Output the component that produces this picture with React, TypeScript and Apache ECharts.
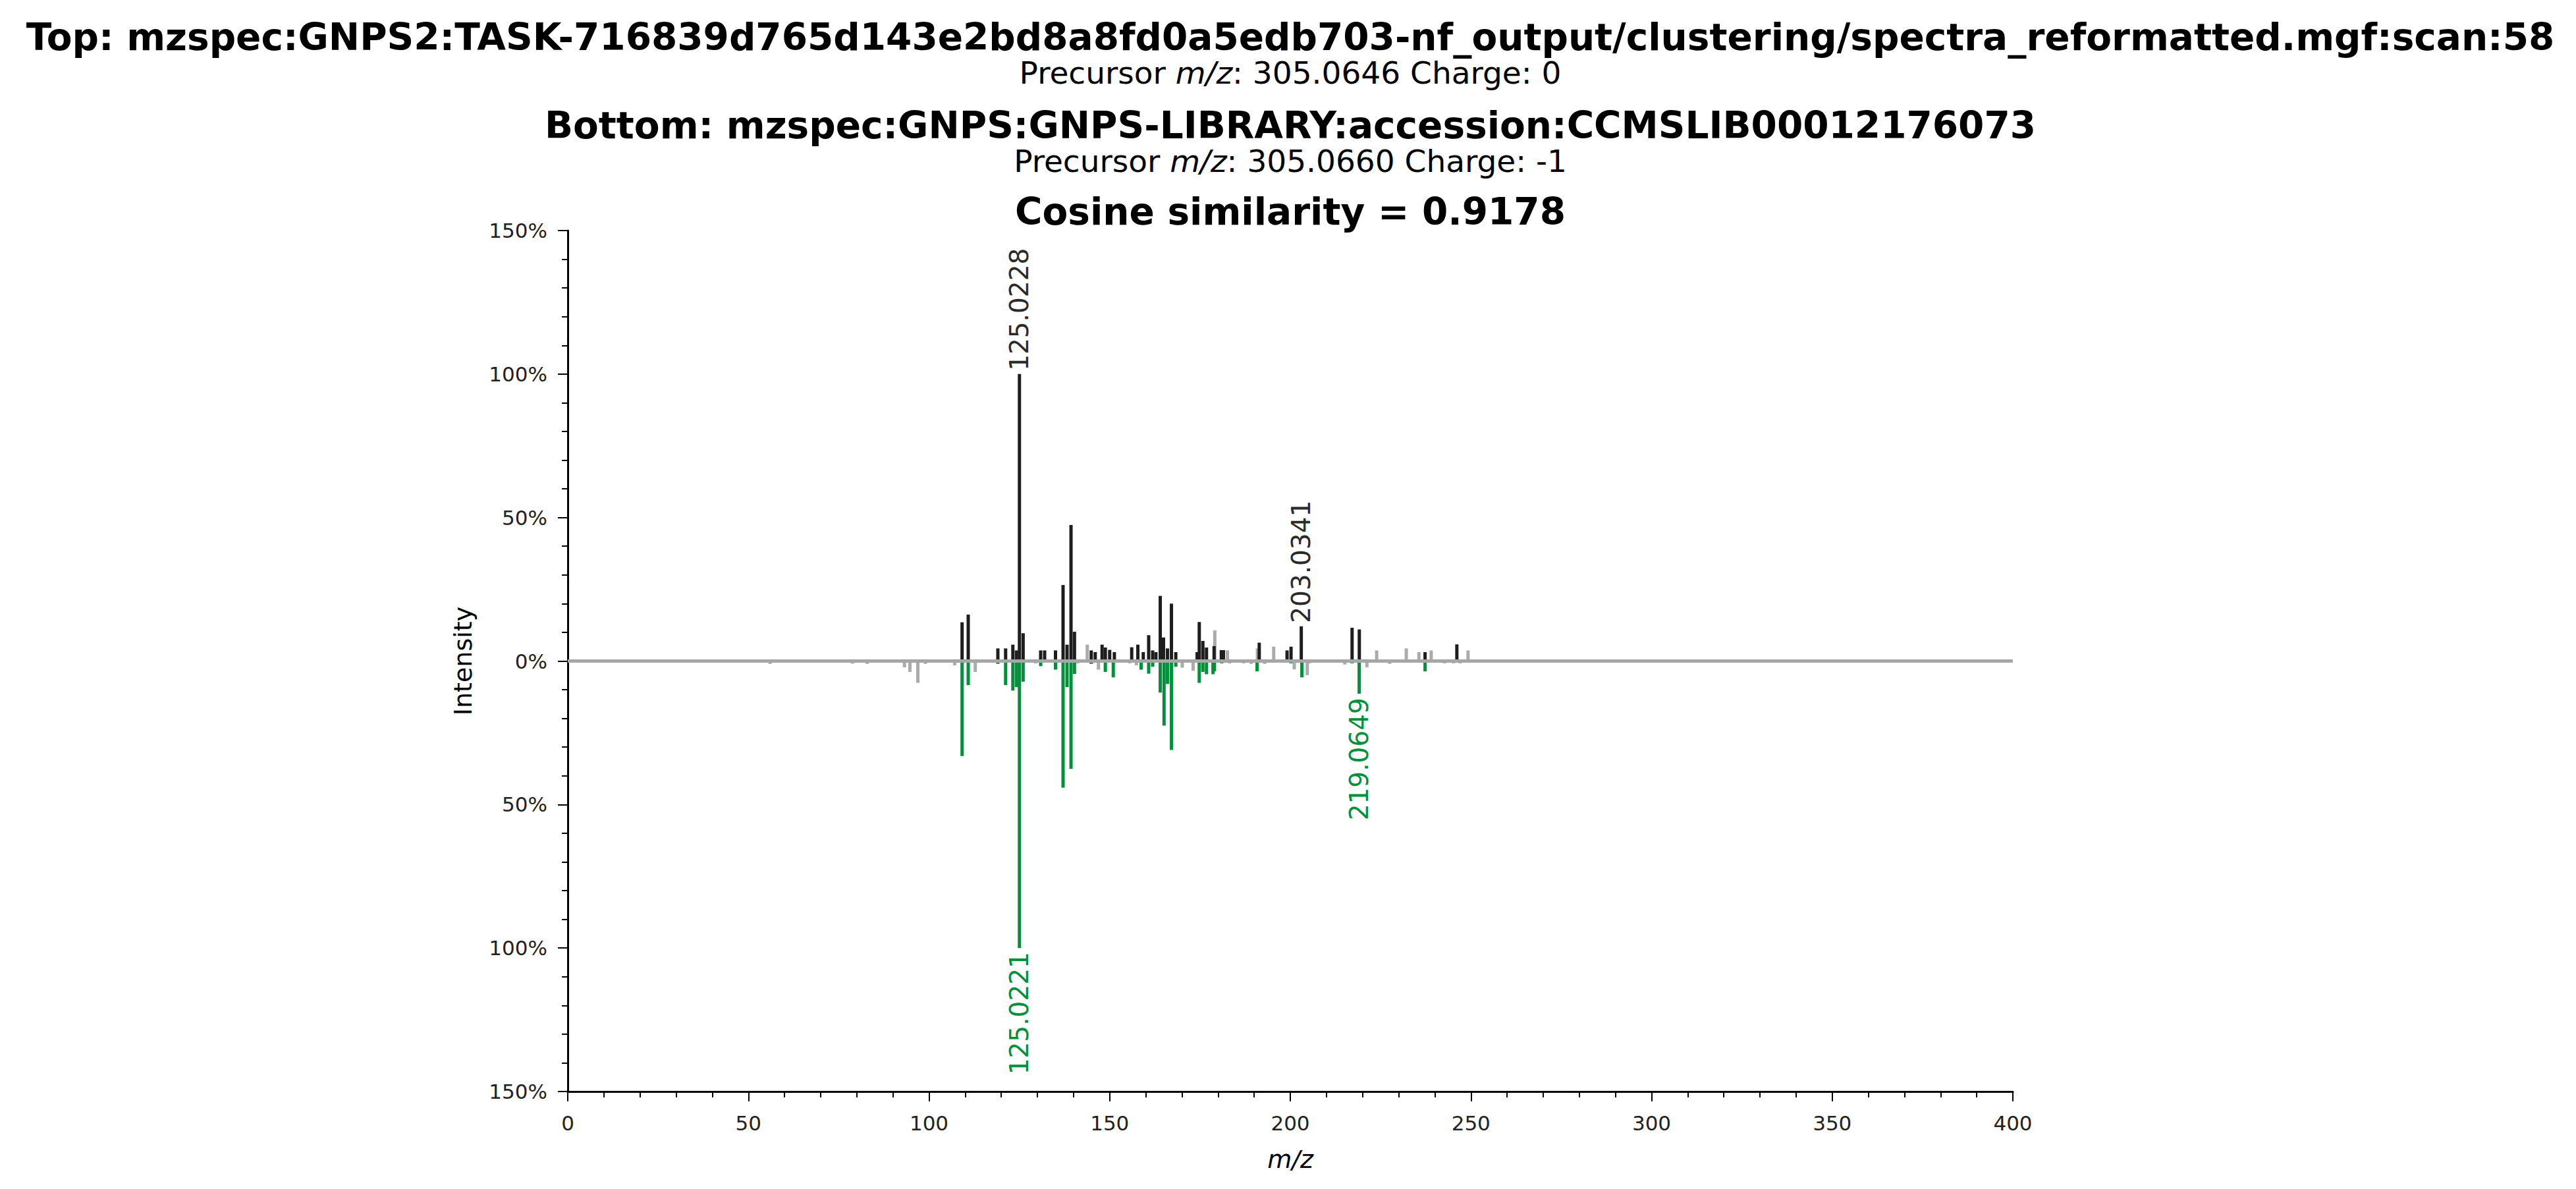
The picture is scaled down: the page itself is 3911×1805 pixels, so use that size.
import React, { useEffect, useRef } from "react";
import * as echarts from "echarts";

const TITLE_TOP =
  "Top: mzspec:GNPS2:TASK-716839d765d143e2bd8a8fd0a5edb703-nf_output/clustering/spectra_reformatted.mgf:scan:58";
const PRECURSOR_TOP = "Precursor {i|m/z}: 305.0646 Charge: 0";
const TITLE_BOTTOM = "Bottom: mzspec:GNPS:GNPS-LIBRARY:accession:CCMSLIB00012176073";
const PRECURSOR_BOTTOM = "Precursor {i|m/z}: 305.0660 Charge: -1";
const COSINE_TITLE = "Cosine similarity = 0.9178";

const xTicksMin = 0;
const xTicksMax = 400;
const xTickStep = 50;
const yTicksMin = -150;
const yTicksMax = 150;
const yTickStep = 50;

// Top spectrum, matched peaks (black)
const topMatchedMz = [
  109.15, 110.85, 119.05, 121.2, 123.2, 124.2, 125.0228, 126.05, 130.9, 132.0, 135.0,
  137.1, 138.2, 139.3, 140.26, 144.9, 146.0, 147.9, 148.8, 150.0, 151.3, 156.1, 157.8,
  159.3, 160.8, 161.9, 162.8, 164.0, 164.9, 166.0, 167.1, 168.3, 174.2, 174.8, 175.8,
  176.8, 178.9, 180.9, 181.5, 191.4, 199.1, 200.2, 203.0341, 217.1, 219.1, 237.3, 246.1,
];
const topMatchedInt = [
  13.5, 16.2, 4.4, 4.4, 5.7, 3.7, 100, 9.7, 3.7, 3.7, 3.7,
  26.5, 5.7, 47.4, 10.2, 3.7, 3.1, 5.7, 4.7, 3.9, 3.1, 4.8, 5.7,
  3.1, 9.0, 3.7, 3.1, 22.7, 8.2, 4.4, 20.0, 3.1, 3.1, 13.6, 7.0,
  4.7, 5.2, 3.8, 3.8, 6.4, 3.7, 5.0, 12.1, 11.6, 11.0, 3.1, 5.8,
];

// Top spectrum, unmatched peaks (grey)
const topUnmatchedMz = [143.8, 179.1, 182.6, 190.9, 195.4, 223.9, 232.1, 235.6, 239.0, 249.2];
const topUnmatchedInt = [5.7, 10.7, 3.7, 4.4, 5.0, 3.7, 4.4, 3.1, 3.7, 3.7];

// Bottom spectrum, matched peaks (green), intensities in %
const bottomMatchedMz = [
  109.15, 110.85, 119.05, 121.2, 123.2, 124.2, 125.0221, 126.05, 130.9, 135.0, 137.1,
  138.2, 139.3, 140.26, 144.9, 148.8, 151.0, 158.7, 160.8, 161.9, 164.0, 165.05, 166.0,
  167.1, 168.3, 174.8, 175.8, 176.8, 178.6, 179.0, 181.0, 190.8, 200.2, 203.2, 217.1,
  219.0649, 237.3,
];
const bottomMatchedInt = [
  33.1, 8.4, 1.0, 8.4, 10.3, 9.1, 100, 7.2, 1.8, 3.0, 44.1,
  9.1, 37.6, 4.5, 1.0, 3.8, 5.7, 3.0, 4.4, 2.0, 11.0, 22.5, 8.0,
  31.0, 2.0, 7.6, 3.8, 4.6, 4.6, 3.6, 0.8, 3.6, 0.8, 5.7, 0.8,
  11.4, 3.6,
];

// Bottom spectrum, unmatched peaks (grey)
const bottomUnmatchedMz = [
  56.0, 78.8, 82.9, 93.2, 94.7, 96.9, 99.0, 107.1, 112.8, 129.5, 141.2, 146.9, 155.5,
  157.4, 170.1, 173.1, 183.2, 187.1, 189.2, 192.9, 201.1, 204.7, 205.3, 215.1, 221.2,
  227.5, 242.7, 245.2, 247.0,
];
const bottomUnmatchedInt = [
  1.0, 0.9, 1.0, 2.2, 3.8, 7.6, 1.0, 1.5, 3.8, 0.8, 0.8, 3.0, 0.8,
  1.5, 2.3, 3.4, 0.8, 0.8, 1.0, 1.0, 2.9, 4.9, 0.8, 1.2, 2.2,
  1.0, 0.8, 0.8, 0.8,
];

// Annotated peaks
const annotTopMz = [125.0228, 203.0341];
const annotTopInt = [100, 12.1];
const annotBottomMz = [125.0221, 219.0649];
const annotBottomInt = [100, 11.4];

const BLACK = "#1e1e1e";
const GREEN = "#00913a";
const GREY = "#ababab";
const FONT = "DejaVu Sans";
const BAR_W = 5;

function barRender(color: string) {
  return (params: any, api: any) => {
    const x = api.value(0);
    const y = api.value(1);
    const p0 = api.coord([x, 0]);
    const p1 = api.coord([x, y]);
    return {
      type: "rect",
      shape: {
        x: p0[0] - BAR_W / 2,
        y: Math.min(p0[1], p1[1]),
        width: BAR_W,
        height: Math.abs(p1[1] - p0[1]),
      },
      style: { fill: color },
    };
  };
}

function labelRender(color: string, top: boolean) {
  return (params: any, api: any) => {
    const x = api.value(0);
    const y = api.value(1);
    const p = api.coord([x, y]);
    const txt = x.toFixed(4);
    return {
      type: "text",
      x: p[0],
      y: top ? p[1] - 5 : p[1] + 6,
      rotation: Math.PI / 2,
      style: {
        text: txt,
        fill: color,
        fontSize: 39,
        fontFamily: FONT,
        align: top ? "left" : "right",
        verticalAlign: "middle",
      },
    };
  };
}

export default function App() {
  const ref = useRef<HTMLDivElement>(null);

  useEffect(() => {
    if (!ref.current) return;
    const chart = echarts.init(ref.current, null, { renderer: "svg" });

    const zip = (a: number[], b: number[], sign: number) =>
      a.map((m, i) => [m, sign * b[i]]);

    const titleStyle = (text: string, y: number, bold: boolean, size: number) => ({
      type: "text",
      x: 1959,
      y,
      style: {
        text,
        fontSize: size,
        fontWeight: bold ? "bold" : "normal",
        fontFamily: FONT,
        fill: "#000",
        align: "center",
        verticalAlign: "middle",
        rich: {
          i: { fontStyle: "italic", fontSize: size, fontFamily: FONT, fill: "#000" },
        },
      },
    });

    const option: any = {
      animation: false,
      backgroundColor: "#ffffff",
      graphic: [
        titleStyle(TITLE_TOP, 56, true, 56.5),
        titleStyle(PRECURSOR_TOP, 110, false, 47),
        titleStyle(TITLE_BOTTOM, 190, true, 56.5),
        titleStyle(PRECURSOR_BOTTOM, 244, false, 47),
        titleStyle(COSINE_TITLE, 321, true, 56.5),
      ],
      grid: { left: 862, right: 855, top: 350, bottom: 148, containLabel: false },
      xAxis: {
        type: "value",
        min: xTicksMin,
        max: xTicksMax,
        interval: xTickStep,
        name: "m/z",
        nameLocation: "middle",
        nameGap: 84,
        nameTextStyle: { fontStyle: "italic", fontSize: 38, fontFamily: FONT, color: "#000" },
        axisLine: { show: true, onZero: false, lineStyle: { color: "#000", width: 3 } },
        axisTick: { show: true, length: 15, lineStyle: { color: "#000", width: 2 } },
        minorTick: { show: true, splitNumber: 5, length: 9, lineStyle: { color: "#000", width: 2 } },
        axisLabel: { fontSize: 31, fontFamily: FONT, color: "#222", margin: 32 },
        splitLine: { show: false },
      },
      yAxis: {
        type: "value",
        min: yTicksMin,
        max: yTicksMax,
        interval: yTickStep,
        name: "Intensity",
        nameLocation: "middle",
        nameGap: 140,
        nameRotate: 90,
        nameTextStyle: { fontSize: 38, fontFamily: FONT, color: "#000" },
        axisLine: { show: true, onZero: false, lineStyle: { color: "#000", width: 3 } },
        axisTick: { show: true, length: 15, lineStyle: { color: "#000", width: 2 } },
        minorTick: { show: true, splitNumber: 5, length: 9, lineStyle: { color: "#000", width: 2 } },
        axisLabel: {
          fontSize: 31,
          fontFamily: FONT,
          color: "#222",
          margin: 31,
          formatter: (v: number) => `${Math.abs(v)}%`,
        },
        splitLine: { show: false },
      },
      series: [
        {
          type: "custom",
          name: "top-unmatched",
          renderItem: barRender(GREY),
          data: zip(topUnmatchedMz, topUnmatchedInt, 1),
          encode: { x: 0, y: 1 },
          z: 2,
        },
        {
          type: "custom",
          name: "bottom-unmatched",
          renderItem: barRender(GREY),
          data: zip(bottomUnmatchedMz, bottomUnmatchedInt, -1),
          encode: { x: 0, y: 1 },
          z: 2,
        },
        {
          type: "custom",
          name: "top-matched",
          renderItem: barRender(BLACK),
          data: zip(topMatchedMz, topMatchedInt, 1),
          encode: { x: 0, y: 1 },
          z: 3,
        },
        {
          type: "custom",
          name: "bottom-matched",
          renderItem: barRender(GREEN),
          data: zip(bottomMatchedMz, bottomMatchedInt, -1),
          encode: { x: 0, y: 1 },
          z: 3,
        },
        {
          type: "line",
          name: "zero",
          data: [
            [xTicksMin, 0],
            [xTicksMax, 0],
          ],
          symbol: "none",
          lineStyle: { color: "#a6a6a6", width: 5 },
          z: 4,
          silent: true,
        },
        {
          type: "custom",
          name: "top-labels",
          renderItem: labelRender("#2a2a2a", true),
          data: zip(annotTopMz, annotTopInt, 1),
          encode: { x: 0, y: 1 },
          z: 5,
        },
        {
          type: "custom",
          name: "bottom-labels",
          renderItem: labelRender(GREEN, false),
          data: zip(annotBottomMz, annotBottomInt, -1),
          encode: { x: 0, y: 1 },
          z: 5,
        },
      ],
    };

    chart.setOption(option);
    return () => {
      chart.dispose();
    };
  }, []);

  return (
    <div
      ref={ref}
      style={{ position: "fixed", left: 0, top: 0, width: 3911, height: 1805, background: "#fff" }}
    />
  );
}
